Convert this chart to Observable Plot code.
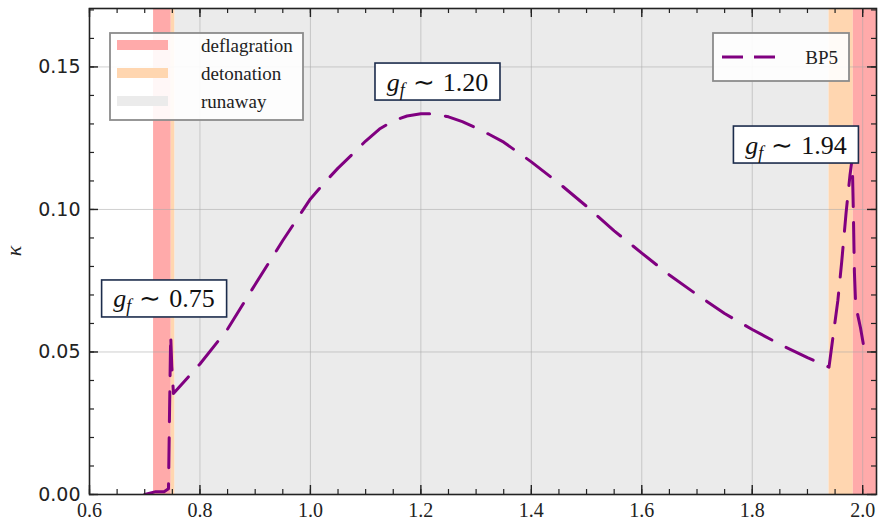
<!DOCTYPE html>
<html><head><meta charset="utf-8">
<script src="https://cdn.jsdelivr.net/npm/d3@7"></script>
<script src="https://cdn.jsdelivr.net/npm/@observablehq/plot@0.6"></script>
<style>
body{margin:0;background:#fff;}
#chart{position:relative;width:883px;height:526px;}
</style>
</head><body><div id="chart"></div>
<script>
// ---- data ----
const gf    = [0.700, 0.720, 0.735, 0.743, 0.745, 0.747, 0.749, 0.752,
               0.80, 0.85, 0.90, 0.95, 1.00, 1.025, 1.05, 1.075, 1.10, 1.125, 1.15, 1.175, 1.20,
               1.225, 1.25, 1.275, 1.30, 1.325, 1.35,
               1.40, 1.45, 1.50, 1.55, 1.60, 1.65, 1.70, 1.75, 1.80, 1.85, 1.90, 1.939,
               1.945, 1.955, 1.962, 1.970, 1.977, 1.981, 1.983, 1.985, 1.987, 1.991, 1.996, 2.001];
const kappa = [0.000, 0.001, 0.001, 0.002, 0.030, 0.056, 0.045, 0.0354,
               0.0458, 0.058, 0.0737, 0.0891, 0.1037, 0.1093, 0.1145, 0.1192, 0.1240, 0.1282, 0.1311, 0.1328, 0.1336,
               0.1335, 0.1325, 0.1308, 0.1286, 0.1262, 0.1236,
               0.1167, 0.1092, 0.1011, 0.0925, 0.0847, 0.077, 0.0701, 0.0635, 0.0579, 0.0527, 0.048, 0.0447,
               0.0535, 0.068, 0.0816, 0.099, 0.112, 0.118, 0.100, 0.078, 0.068, 0.063, 0.0585, 0.053];
const seriesName = "BP5";

const phases = ["deflagration", "detonation", "runaway"];
const regionPhase = ["deflagration", "detonation", "runaway", "detonation", "deflagration"];
const regionStart = [0.716, 0.748, 0.755, 1.939, 1.983];
const regionEnd   = [0.748, 0.755, 1.939, 1.983, 2.060];

const xTicks = [0.6, 0.8, 1.0, 1.2, 1.4, 1.6, 1.8, 2.0];
const yTicks = [0.00, 0.05, 0.10, 0.15];

const annotX = [0.736, 1.231, 1.880];
const annotY = [0.0686, 0.1447, 0.1226];
const annotValue = ["0.75", "1.20", "1.94"];

// ---- layout / style ----
const W = 883, H = 526, mL = 89, mR = 7, mT = 8, mB = 32;
const innerW = W - mL - mR, innerH = H - mT - mB;
const phaseColors = ["#ffaaaa", "#ffd6b0", "#ebebeb"];
const serif = "Liberation Serif";
const sans = "DejaVu Sans";
const purple = "#800080";

const regions = regionPhase.map((p, i) => ({phase: p, x1: regionStart[i], x2: regionEnd[i]}));
const curve = gf.map((g, i) => ({gf: g, kappa: kappa[i]}));
const minorX = d3.range(0, 29).map(i => +(0.6 + i * 0.05).toFixed(2));
const minorY = d3.range(0, 18).map(i => +(i * 0.01).toFixed(2));

const chart = Plot.plot({
  width: W, height: H,
  marginLeft: mL, marginRight: mR, marginTop: mT, marginBottom: mB,
  x: {domain: [0.6, 2.025]},
  y: {domain: [0, 0.1705]},
  color: {domain: phases, range: phaseColors},
  style: {fontFamily: serif, fontSize: "20px", color: "#222", background: "white"},
  marks: [
    Plot.rect(regions, {x1: "x1", x2: "x2", fill: "phase", clip: true}),
    Plot.gridX(xTicks, {stroke: "#a8a8a8", strokeOpacity: 0.55, strokeWidth: 1}),
    Plot.gridY(yTicks, {stroke: "#a8a8a8", strokeOpacity: 0.55, strokeWidth: 1}),
    Plot.line(curve, {x: "gf", y: "kappa", stroke: purple, strokeWidth: 3,
      strokeDasharray: "30,16", clip: true}),
    // inward ticks on all four sides
    Plot.tickX(minorX, {x: d => d, insetTop: innerH - 5, stroke: "#222", strokeWidth: 1.2}),
    Plot.tickX(minorX, {x: d => d, insetBottom: innerH - 5, stroke: "#222", strokeWidth: 1.2}),
    Plot.tickX(xTicks, {x: d => d, insetTop: innerH - 9, stroke: "#222", strokeWidth: 1.4}),
    Plot.tickX(xTicks, {x: d => d, insetBottom: innerH - 9, stroke: "#222", strokeWidth: 1.4}),
    Plot.tickY(minorY, {y: d => d, insetRight: innerW - 5, stroke: "#222", strokeWidth: 1.2}),
    Plot.tickY(minorY, {y: d => d, insetLeft: innerW - 5, stroke: "#222", strokeWidth: 1.2}),
    Plot.tickY(yTicks, {y: d => d, insetRight: innerW - 9, stroke: "#222", strokeWidth: 1.4}),
    Plot.tickY(yTicks, {y: d => d, insetLeft: innerW - 9, stroke: "#222", strokeWidth: 1.4}),
    Plot.axisX(xTicks, {tickSize: 0, tickPadding: 8, tickFormat: d3.format(".1f"), label: null, fontSize: 20, fontFamily: serif}),
    Plot.axisY(yTicks, {tickSize: 0, tickPadding: 9, tickFormat: d3.format(".2f"), label: null, fontSize: 19, fontFamily: sans}),
    Plot.frame({stroke: "#222", strokeWidth: 1.6})
  ]
});

document.getElementById("chart").appendChild(chart);
const svg = d3.select(chart);
const sx = chart.scale("x"), sy = chart.scale("y");

// y-axis label
svg.append("text")
  .attr("transform", `translate(13,${mT + innerH / 2}) rotate(-90)`)
  .attr("text-anchor", "middle").attr("dominant-baseline", "central")
  .attr("font-family", serif).attr("font-style", "italic").attr("font-size", 22)
  .attr("fill", "#222").text("κ");

// annotations with boxes
annotValue.forEach((v, i) => {
  const cx = sx.apply(annotX[i]), cy = sy.apply(annotY[i]);
  const g = svg.append("g");
  const rect = g.append("rect");
  const t = g.append("text")
    .attr("x", cx).attr("y", cy + 9)
    .attr("text-anchor", "middle")
    .attr("font-family", serif).attr("font-size", 26).attr("fill", "#111");
  t.append("tspan").attr("font-style", "italic").text("g");
  t.append("tspan").attr("font-style", "italic").attr("font-size", 18).attr("dy", 5).text("f");
  t.append("tspan").attr("dy", -5).attr("dx", 8).attr("font-size", 26).text("∼");
  t.append("tspan").attr("dx", 8).text(v);
  const b = t.node().getBBox();
  const w = 125, h = 37;
  rect.attr("x", b.x + b.width / 2 - w / 2).attr("y", cy - h / 2)
    .attr("width", w).attr("height", h)
    .attr("fill", "white").attr("stroke", "#1c2c4c").attr("stroke-width", 1.6);
});

// phase legend (top-left)
const lg = svg.append("g");
lg.append("rect").attr("x", 110).attr("y", 33).attr("width", 193).attr("height", 87)
  .attr("fill", "white").attr("fill-opacity", 0.9).attr("stroke", "#8c8c8c").attr("stroke-width", 1.8);
phases.forEach((p, i) => {
  const yy = 45 + i * 28;
  lg.append("rect").attr("x", 117).attr("y", yy - 5).attr("width", 51).attr("height", 10)
    .attr("fill", phaseColors[i]);
  lg.append("text").attr("x", 201).attr("y", yy).attr("text-anchor", "start").attr("dominant-baseline", "central")
    .attr("font-family", serif).attr("font-size", 19).attr("fill", "#222").text(p);
});

// series legend (top-right)
const lg2 = svg.append("g");
lg2.append("rect").attr("x", 713).attr("y", 33).attr("width", 136).attr("height", 48)
  .attr("fill", "white").attr("fill-opacity", 0.9).attr("stroke", "#8c8c8c").attr("stroke-width", 1.8);
lg2.append("line").attr("x1", 722).attr("x2", 776).attr("y1", 57).attr("y2", 57)
  .attr("stroke", purple).attr("stroke-width", 3).attr("stroke-dasharray", "21,11");
lg2.append("text").attr("x", 838).attr("y", 57).attr("text-anchor", "end").attr("dominant-baseline", "central")
  .attr("font-family", serif).attr("font-size", 19).attr("fill", "#222").text(seriesName);
</script>
</body></html>
